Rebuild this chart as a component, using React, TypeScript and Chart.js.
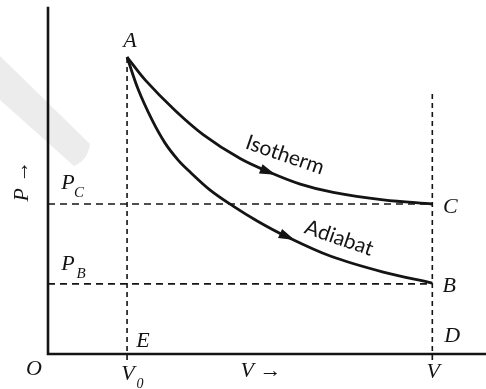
import React, { useEffect, useRef } from "react";
import { Chart, registerables } from "chart.js";
Chart.register(...registerables);

// P–V diagram values (arbitrary units: V0 = 1, PA = 1)
const isothermV = [1, 1.228, 1.608, 1.962, 2.43, 2.81, 3.19, 3.608, 4.241, 4.861];
const isothermP = [1, 0.923, 0.82, 0.739, 0.658, 0.611, 0.572, 0.544, 0.519, 0.505];
const adiabatV = [1, 1.139, 1.316, 1.481, 1.646, 1.797, 2.051, 2.342, 2.646, 2.975, 3.57, 4.241, 4.861];
const adiabatP = [1, 0.892, 0.788, 0.71, 0.653, 0.613, 0.552, 0.498, 0.448, 0.401, 0.33, 0.276, 0.239];
const V0 = 1;
const V1 = 4.861;
const PA = 1;
const PC = 0.505;
const PB = 0.236;
const vGuideTop = 0.889;
const arrowAt = [2.88, 3.12];
const xMax = 5.54;
const yMax = 1.165;

const INK = "#141414";
const SERIF = '"Liberation Serif", "Times New Roman", serif';
const SANS = 'Lato, "Open Sans", sans-serif';

function pts(xs: number[], ys: number[]) {
  return xs.map((x, i) => ({ x, y: ys[i] }));
}

const diagramPlugin = {
  id: "diagram",
  beforeDatasetsDraw(chart: any) {
    const ctx = chart.ctx as CanvasRenderingContext2D;
    // faint watermark band
    ctx.save();
    ctx.fillStyle = "#ececec";
    ctx.beginPath();
    ctx.moveTo(0, 56);
    ctx.lineTo(90, 144);
    ctx.quadraticCurveTo(88, 160, 74, 166);
    ctx.lineTo(0, 100);
    ctx.closePath();
    ctx.fill();
    ctx.restore();
  },
  afterDatasetsDraw(chart: any) {
    const ctx = chart.ctx as CanvasRenderingContext2D;
    const xs = chart.scales.x;
    const ys = chart.scales.y;
    const X = (v: number) => xs.getPixelForValue(v);
    const Y = (v: number) => ys.getPixelForValue(v);
    const area = chart.chartArea;

    // axes
    ctx.save();
    ctx.strokeStyle = INK;
    ctx.lineWidth = 2.6;
    ctx.lineCap = "square";
    ctx.beginPath();
    ctx.moveTo(X(0), area.top);
    ctx.lineTo(X(0), Y(0));
    ctx.lineTo(area.right, Y(0));
    ctx.stroke();
    ctx.restore();

    // arrowheads along curves
    const curves = [
      [isothermV, isothermP],
      [adiabatV, adiabatP],
    ];
    curves.forEach(([cv, cp], k) => {
      const a = arrowAt[k];
      let i = 0;
      while (i < cv.length - 2 && cv[i + 1] < a) i++;
      const t = (a - cv[i]) / (cv[i + 1] - cv[i]);
      const px = X(a);
      const py = Y(cp[i] + t * (cp[i + 1] - cp[i]));
      let dx = X(cv[i + 1]) - X(cv[i]);
      let dy = Y(cp[i + 1]) - Y(cp[i]);
      const len = Math.hypot(dx, dy);
      dx /= len;
      dy /= len;
      const L = 16;
      const W = 5;
      const bx = px - dx * L;
      const by = py - dy * L;
      ctx.save();
      ctx.fillStyle = INK;
      ctx.beginPath();
      ctx.moveTo(px, py);
      ctx.lineTo(bx - dy * W, by + dx * W);
      ctx.lineTo(bx + dy * W, by - dx * W);
      ctx.closePath();
      ctx.fill();
      ctx.restore();
    });

    // labels
    ctx.save();
    ctx.fillStyle = INK;
    ctx.textAlign = "center";
    ctx.textBaseline = "middle";
    const it = (s: number) => `italic ${s}px ${SERIF}`;
    const label = (t: string, x: number, y: number, size = 22) => {
      ctx.font = it(size);
      ctx.fillText(t, x, y);
    };
    label("A", X(V0) + 3, Y(PA) - 16);
    label("C", X(V1) + 18, Y(PC) + 3);
    label("B", X(V1) + 17, Y(PB) + 2);
    label("D", X(V1) + 20, Y(0) - 18);
    label("E", X(V0) + 16, Y(0) - 13);
    label("O", X(0) - 14, Y(0) + 15);
    label("P", X(0) + 20, Y(PC) - 21);
    label("C", X(0) + 31, Y(PC) - 11, 15);
    label("P", X(0) + 20, Y(PB) - 20);
    label("B", X(0) + 33, Y(PB) - 10, 15);
    label("V", X(V0) + 1, Y(0) + 20);
    label("0", X(V0) + 13, Y(0) + 30, 14);
    label("V \u2192", 261, Y(0) + 17);
    label("V", X(V1) + 1, Y(0) + 18);

    // vertical axis label
    ctx.save();
    ctx.translate(22, 181);
    ctx.rotate(-Math.PI / 2);
    label("P \u2192", 0, 0);
    ctx.restore();

    // curve names
    const rot = (t: string, x: number, y: number, ang: number) => {
      ctx.save();
      ctx.translate(x, y);
      ctx.rotate((ang * Math.PI) / 180);
      ctx.font = `21px ${SANS}`;
      ctx.fillText(t, 0, 0);
      ctx.restore();
    };
    rot("Isotherm", 285, 155, 19);
    rot("Adiabat", 339, 238, 19);
    ctx.restore();
  },
};

export default function App() {
  const ref = useRef<HTMLCanvasElement | null>(null);
  useEffect(() => {
    document.body.style.margin = "0";
    const canvas = ref.current!;
    const dashed = {
      borderColor: INK,
      borderWidth: 1.6,
      borderDash: [7, 5],
      pointRadius: 0,
      tension: 0,
      fill: false,
      clip: false as any,
    };
    const curve = {
      borderColor: INK,
      borderWidth: 2.8,
      pointRadius: 0,
      tension: 0.35,
      fill: false,
      clip: false as any,
    };
    const chart = new Chart(canvas, {
      type: "line",
      data: {
        datasets: [
          { ...dashed, label: "PC", data: [{ x: 0, y: PC }, { x: V1, y: PC }] },
          { ...dashed, label: "PB", data: [{ x: 0, y: PB }, { x: V1, y: PB }] },
          { ...dashed, borderDash: [5, 4], label: "V0", data: [{ x: V0, y: -0.02 }, { x: V0, y: PA }] },
          { ...dashed, borderDash: [5, 4], label: "V", data: [{ x: V1, y: -0.02 }, { x: V1, y: vGuideTop }] },
          { ...curve, label: "Isotherm", data: pts(isothermV, isothermP) },
          { ...curve, label: "Adiabat", data: pts(adiabatV, adiabatP) },
        ],
      },
      options: {
        animation: false,
        responsive: false,
        layout: { padding: { left: 48, top: 8, right: 0, bottom: 35 } },
        scales: {
          x: { type: "linear", min: 0, max: xMax, display: false },
          y: { type: "linear", min: 0, max: yMax, display: false },
        },
        plugins: { legend: { display: false }, tooltip: { enabled: false } },
      },
      plugins: [diagramPlugin],
    });
    return () => chart.destroy();
  }, []);
  return (
    <div style={{ position: "absolute", left: 0, top: 0, width: 486, height: 389, background: "#fff" }}>
      <canvas ref={ref} width={486} height={389} />
    </div>
  );
}
